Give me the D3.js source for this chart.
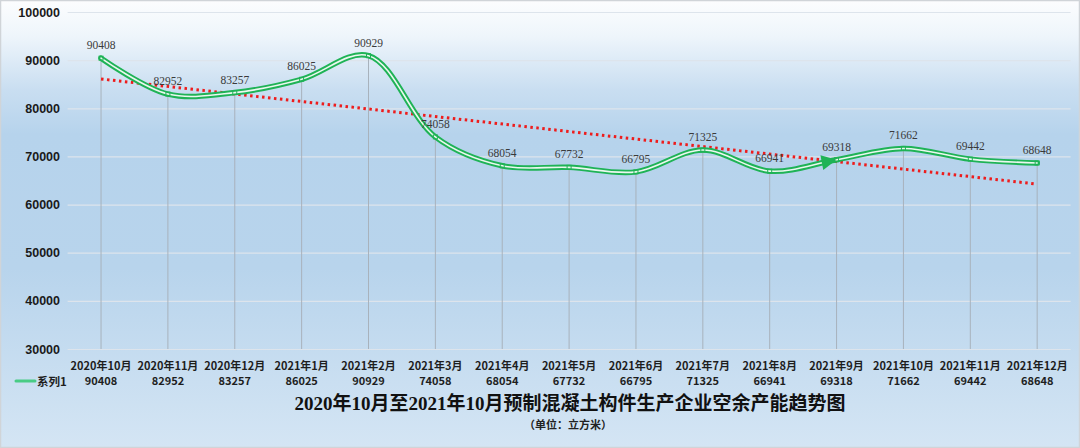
<!DOCTYPE html>
<html><head><meta charset="utf-8">
<script src="https://cdn.jsdelivr.net/npm/d3@7/dist/d3.min.js"></script>
<style>html,body{margin:0;padding:0;background:#fff}svg{display:block}</style>
</head><body>
<svg id="chart" width="1080" height="448"></svg>
<script>
const categories = ["2020年10月","2020年11月","2020年12月","2021年1月","2021年2月","2021年3月","2021年4月","2021年5月","2021年6月","2021年7月","2021年8月","2021年9月","2021年10月","2021年11月","2021年12月"];
const values = [90408,82952,83257,86025,90929,74058,68054,67732,66795,71325,66941,69318,71662,69442,68648];
const yTicks = [30000,40000,50000,60000,70000,80000,90000,100000];
const seriesName = "系列1";
const arrowIndex = 11;
const titleText = "2020年10月至2021年10月预制混凝土构件生产企业空余产能趋势图";
const subtitleText = "（单位：立方米）";

const W = 1080, H = 448;
const svg = d3.select("#chart");
const defs = svg.append("defs");
const bg = defs.append("linearGradient").attr("id","bg").attr("x1",0).attr("y1",0).attr("x2",0).attr("y2",1);
[[0,"#fcfdfe"],[0.08,"#eef5fb"],[0.2,"#c9def1"],[0.3,"#b6d3ec"],[0.6,"#b8d4ec"],[1,"#d4e5f4"]].forEach(s=>bg.append("stop").attr("offset",s[0]).attr("stop-color",s[1]));
svg.append("rect").attr("x",0.5).attr("y",0.5).attr("width",W-1).attr("height",H-1).attr("fill","url(#bg)").attr("stroke","#d0d4d8").attr("stroke-width",1.5);

const plotL = 67.6, plotR = 1070.6;
const x = d3.scaleBand().domain(categories).range([plotL, plotR]).padding(0);
const cx = c => x(c) + x.bandwidth()/2;
const y = d3.scaleLinear().domain([30000,100000]).range([349,12]);

// gridlines
const grid = svg.append("g").attr("transform",`translate(${plotL},0)`)
  .call(d3.axisLeft(y).tickValues(yTicks).tickSize(-(plotR-plotL)).tickFormat(""));
grid.select(".domain").remove();
grid.selectAll("line").attr("stroke","#dde4ec").attr("stroke-width",1.2);

// y labels
const ya = svg.append("g").attr("transform","translate(60,0)")
  .call(d3.axisLeft(y).tickValues(yTicks).tickSize(0).tickPadding(0).tickFormat(d3.format("d")));
ya.select(".domain").remove();
ya.selectAll("text").attr("font-family","'Liberation Sans',Arial,sans-serif").attr("font-size",12.5).attr("font-weight","bold").attr("fill","#1a1a1a");

// drop lines
svg.append("g").selectAll("line").data(categories).join("line")
  .attr("x1",d=>cx(d)).attr("x2",d=>cx(d))
  .attr("y1",(d,i)=>y(values[i])).attr("y2",y(30000))
  .attr("stroke","#a8b2bc").attr("stroke-width",1);

// trend line (linear regression)
const n = values.length, xm = (n-1)/2, ym = d3.mean(values);
let sxy=0,sxx=0; values.forEach((v,i)=>{sxy+=(i-xm)*(v-ym); sxx+=(i-xm)*(i-xm);});
const slope = sxy/sxx, icpt = ym - slope*xm;
svg.append("line")
  .attr("x1",cx(categories[0])).attr("y1",y(icpt))
  .attr("x2",cx(categories[n-1])).attr("y2",y(icpt+slope*(n-1)))
  .attr("stroke","#ee1c1c").attr("stroke-width",3).attr("stroke-dasharray","2.5,3.5");

// series line
const pts = values.map((v,i)=>[cx(categories[i]), y(v)]);
const line = d3.line().curve(d3.curveCatmullRom.alpha(0.5));
const outer = svg.append("path").attr("d",line(pts)).attr("fill","none")
  .attr("stroke","#1fb356").attr("stroke-width",5.5).attr("stroke-linecap","round").attr("stroke-linejoin","round");
svg.append("path").attr("d",line(pts)).attr("fill","none")
  .attr("stroke","#eaf8ef").attr("stroke-width",1.6).attr("stroke-linecap","round");

// markers
svg.append("g").selectAll("rect").data(pts).join("rect")
  .attr("x",d=>d[0]-2).attr("y",d=>d[1]-2).attr("width",4).attr("height",4)
  .attr("fill","none").attr("stroke","#1fb356").attr("stroke-width",1);

// arrowhead at arrowIndex
(function(){
  const node = outer.node(), L = node.getTotalLength();
  const tx = pts[arrowIndex][0];
  let lo=0, hi=L;
  for(let k=0;k<40;k++){const m=(lo+hi)/2; if(node.getPointAtLength(m).x<tx) lo=m; else hi=m;}
  const tip = node.getPointAtLength(lo), back = node.getPointAtLength(lo-8);
  const a = Math.atan2(tip.y-back.y, tip.x-back.x);
  const len=15, half=7.5;
  const bx = tip.x - len*Math.cos(a), by = tip.y - len*Math.sin(a);
  const p1=[bx+half*Math.sin(a), by-half*Math.cos(a)], p2=[bx-half*Math.sin(a), by+half*Math.cos(a)];
  svg.append("path").attr("d",`M${tip.x},${tip.y}L${p1[0]},${p1[1]}L${p2[0]},${p2[1]}Z`).attr("fill","#1fb356");
})();

// data labels
svg.append("g").selectAll("text").data(values).join("text")
  .attr("x",(d,i)=>cx(categories[i])).attr("y",d=>y(d)-9)
  .attr("text-anchor","middle").attr("font-family","'Liberation Serif','Times New Roman',serif")
  .attr("font-size",11.5).attr("fill","#3a3a3a").text(d=>d);

// category table
const xa = svg.append("g").attr("transform","translate(0,349)")
  .call(d3.axisBottom(x).tickSize(0).tickPadding(13));
xa.select(".domain").remove();
xa.selectAll("text").attr("font-family","'Noto Sans CJK SC',sans-serif").attr("font-size",11).attr("font-weight","bold").attr("fill","#1e1e1e");

svg.append("g").selectAll("text").data(values).join("text")
  .attr("x",(d,i)=>cx(categories[i])).attr("y",385)
  .attr("text-anchor","middle").attr("font-family","'Noto Sans CJK SC',sans-serif")
  .attr("font-size",11).attr("font-weight","bold").attr("fill","#1e1e1e").text(d=>d);

// legend
svg.append("line").attr("x1",16).attr("x2",35).attr("y1",381).attr("y2",381)
  .attr("stroke","#48cc85").attr("stroke-width",3).attr("stroke-linecap","round");
svg.append("text").attr("x",37).attr("y",385.5).attr("font-family","'Noto Sans CJK SC',sans-serif")
  .attr("font-size",11.5).attr("font-weight","bold").attr("fill","#1e1e1e").text(seriesName);

// titles
svg.append("text").attr("x",570).attr("y",410).attr("text-anchor","middle")
  .attr("font-family","'Liberation Serif','Noto Sans CJK SC',serif").attr("font-size",19).attr("font-weight","bold")
  .attr("fill","#111").text(titleText);
svg.append("text").attr("x",568).attr("y",429).attr("text-anchor","middle")
  .attr("font-family","'Noto Sans CJK SC',sans-serif").attr("font-size",11).attr("font-weight","bold")
  .attr("fill","#222").text(subtitleText);
</script>
</body></html>
